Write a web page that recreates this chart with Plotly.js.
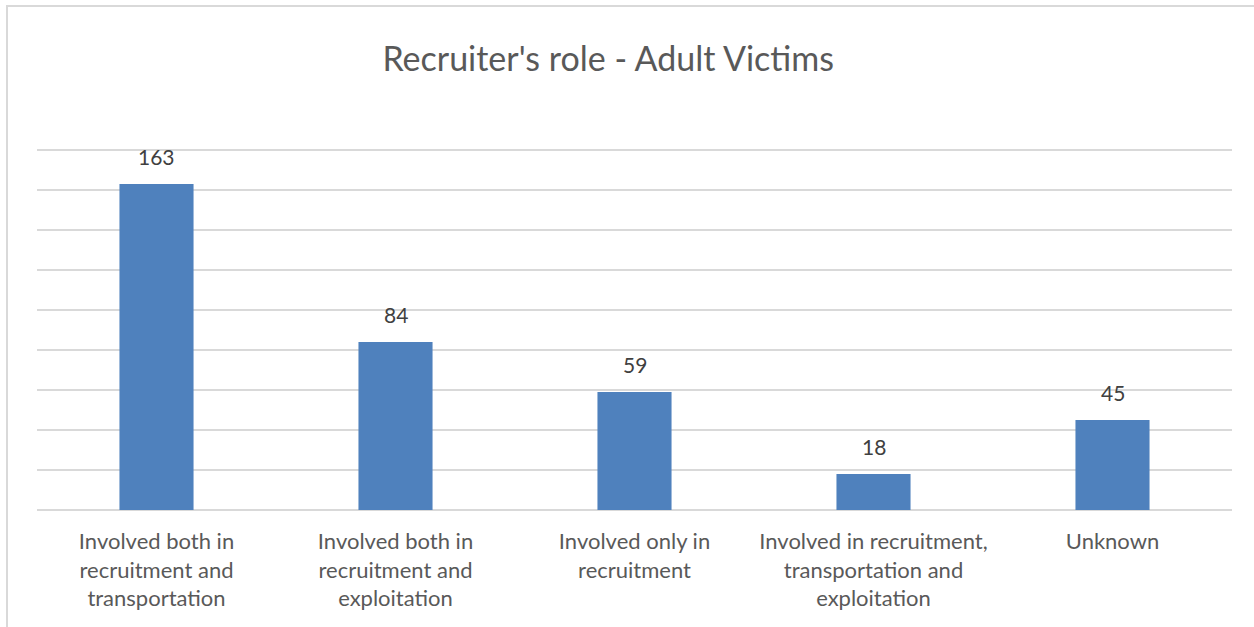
<!DOCTYPE html>
<html>
<head>
<meta charset="utf-8">
<script src="https://cdn.plot.ly/plotly-3.0.1.min.js"></script>
<style>
  html, body { margin: 0; padding: 0; background: #fff; }
  #wrap { position: relative; width: 1254px; height: 627px; overflow: hidden; }
  #chart { width: 1254px; height: 627px; }
  #frame { position: absolute; left: 6px; top: 5px; width: 1260px; height: 640px;
           border: 2px solid #d9d9d9; pointer-events: none; box-sizing: border-box; }
</style>
</head>
<body>
<div id="wrap">
  <div id="chart"></div>
  <div id="frame"></div>
</div>
<script>
const categories = [
  "Involved both in<br>recruitment and<br>transportation",
  "Involved both in<br>recruitment and<br>exploitation",
  "Involved only in<br>recruitment",
  "Involved in recruitment,<br>transportation and<br>exploitation",
  "Unknown"
];
const values = [163, 84, 59, 18, 45];
const chartTitle = "Recruiter's role - Adult Victims";

const fontFam = "Lato, 'Open Sans', sans-serif";
const textCol = "#595959";

const trace = {
  type: "bar",
  x: categories,
  y: values,
  marker: { color: "#4f81bd" },
  hoverinfo: "x+y"
};

const annotations = values.map((v, i) => ({
  x: categories[i], y: v, xref: "x", yref: "y",
  text: String(v), showarrow: false,
  yanchor: "bottom", yshift: 13,
  font: { family: fontFam, size: 21, color: "#404040" }
}));

const layout = {
  width: 1254, height: 627,
  margin: { l: 37, r: 22, t: 148, b: 117 },
  paper_bgcolor: "#fff", plot_bgcolor: "#fff",
  title: { text: chartTitle, x: 0.485, xanchor: "center", y: 0.905, yanchor: "middle",
           font: { family: fontFam, size: 34, color: textCol } },
  bargap: 0.69,
  showlegend: false,
  xaxis: { type: "category", showgrid: false, zeroline: false, showline: false,
           ticks: "", tickfont: { family: fontFam, size: 22, color: textCol },
           ticklabelstandoff: 16,
           tickangle: 0, automargin: false },
  yaxis: { range: [0, 181], tickvals: [0, 20, 40, 60, 80, 100, 120, 140, 160, 180],
           showgrid: true, gridcolor: "#d9d9d9", gridwidth: 1.5,
           zeroline: true, zerolinecolor: "#d9d9d9", zerolinewidth: 1.5,
           showticklabels: false, ticks: "", showline: false, fixedrange: true },
  annotations: annotations
};

Plotly.newPlot("chart", [trace], layout, { displayModeBar: false, staticPlot: true });
</script>
</body>
</html>
